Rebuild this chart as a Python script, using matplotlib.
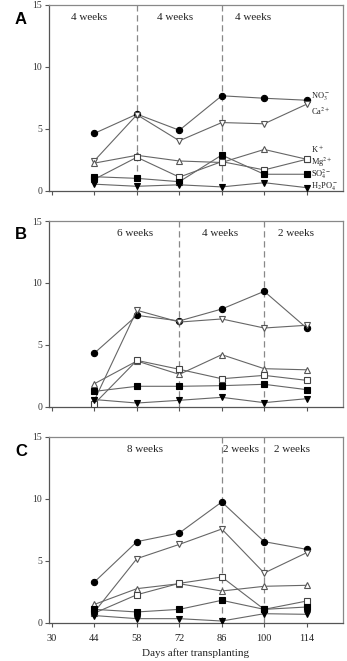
import matplotlib
matplotlib.use("Agg")
import matplotlib.pyplot as plt

plt.rcParams['font.family'] = ['Liberation Serif', 'DejaVu Serif']
plt.rcParams['mathtext.fontset'] = 'stix'

days = [44, 58, 72, 86, 100, 114]
xticks = [30, 44, 58, 72, 86, 100, 114]
yticks = [0, 5, 10, 15]

# Panel A
a_no3 = [4.65, 6.2, 4.9, 7.68, 7.48, 7.32]
a_ca = [2.45, 6.15, 4.05, 5.52, 5.42, 7.0]
a_k = [2.25, 2.88, 2.42, 2.3, 3.35, 2.56]
a_mg = [0.95, 2.72, 1.12, 2.37, 1.7, 2.56]
a_so4 = [1.15, 1.02, 0.75, 2.9, 1.35, 1.35]
a_h2po4 = [0.55, 0.38, 0.5, 0.33, 0.67, 0.27]

# Panel B
b_no3 = [4.35, 7.39, 6.94, 7.9, 9.33, 6.37]
b_ca = [0.55, 7.8, 6.85, 7.1, 6.37, 6.59]
b_k = [1.88, 3.71, 2.63, 4.22, 3.09, 3.0]
b_mg = [0.27, 3.76, 3.04, 2.28, 2.55, 2.15]
b_so4 = [1.26, 1.67, 1.67, 1.72, 1.83, 1.4]
b_h2po4 = [0.6, 0.32, 0.54, 0.78, 0.35, 0.67]

# Panel C
c_no3 = [3.31, 6.56, 7.26, 9.76, 6.56, 5.94]
c_ca = [0.9, 5.19, 6.34, 7.58, 4.03, 5.67]
c_k = [1.5, 2.77, 3.17, 2.58, 2.96, 3.04]
c_mg = [0.8, 2.28, 3.2, 3.71, 1.1, 1.77]
c_so4 = [1.1, 0.89, 1.1, 1.83, 1.1, 1.29]
c_h2po4 = [0.6, 0.35, 0.35, 0.16, 0.75, 0.7]

panels = [
    dict(label='A', series=[a_no3, a_ca, a_k, a_mg, a_so4, a_h2po4],
         vlines=[58, 86], periods=['4 weeks', '4 weeks', '4 weeks'],
         period_x=[42.2, 70.7, 96.2]),
    dict(label='B', series=[b_no3, b_ca, b_k, b_mg, b_so4, b_h2po4],
         vlines=[72, 100], periods=['6 weeks', '4 weeks', '2 weeks'],
         period_x=[57.5, 85.6, 110.5]),
    dict(label='C', series=[c_no3, c_ca, c_k, c_mg, c_so4, c_h2po4],
         vlines=[86, 100], periods=['8 weeks', '2 weeks', '2 weeks'],
         period_x=[60.8, 92.2, 109.1]),
]

ion_labels = [r'NO$_3^-$', r'Ca$^{2+}$', r'K$^+$', r'Mg$^{2+}$', r'SO$_4^{2-}$', r'H$_2$PO$_4^-$']
ion_label_y = [7.6, 6.45, 3.35, 2.35, 1.35, 0.35]

styles = [
    dict(marker='o', mfc='black', mec='black'),
    dict(marker='v', mfc='white', mec='#555555'),
    dict(marker='^', mfc='white', mec='#555555'),
    dict(marker='s', mfc='white', mec='#444444'),
    dict(marker='s', mfc='black', mec='black'),
    dict(marker='v', mfc='black', mec='black'),
]

fig = plt.figure(figsize=(3.47, 6.61), dpi=100)
tops = [5, 221, 437]
h_px = 186
for i, p in enumerate(panels):
    top = tops[i]
    ax = fig.add_axes([49 / 347, 1 - (top + h_px) / 661, 294 / 347, h_px / 661])
    for vx in p['vlines']:
        ax.axvline(vx, color='#888888', ls=(0, (5, 3)), lw=0.9, zorder=1)
    for s, st in zip(p['series'], styles):
        ax.plot(days, s, color='#666666', lw=0.8, marker=st['marker'],
                mfc=st['mfc'], mec=st['mec'], mew=0.8, ms=4.5, zorder=3)
    ax.set_xlim(29, 126)
    ax.set_ylim(0, 15)
    ax.set_yticks(yticks)
    ax.set_yticklabels([str(v) for v in yticks], fontsize=7, color='#333333')
    ax.set_xticks(xticks)
    if i == 2:
        ax.set_xticklabels([str(v) for v in xticks], fontsize=7.5, color='#222222')
        ax.set_xlabel('Days after transplanting', fontsize=8, labelpad=4, color='#222222')
    else:
        ax.set_xticklabels([])
    ax.tick_params(axis='both', direction='out', length=3, width=0.8, color='#555555', pad=2)
    ax.tick_params(axis='x', length=3, pad=5)
    for sp in ax.spines.values():
        sp.set_color('#888888')
        sp.set_linewidth(0.9)
    ax.spines['left'].set_color('#555555')
    ax.spines['bottom'].set_color('#555555')
    for tx, t in zip(p['period_x'], p['periods']):
        ax.text(tx, 14.0, t, ha='center', va='center', fontsize=8, color='#222222')
    fig.text(15 / 347, 1 - (top + 14) / 661, p['label'], fontsize=12, fontweight='bold',
             family='Liberation Sans', ha='left', va='center')
    if i == 0:
        for lab, ly in zip(ion_labels, ion_label_y):
            ax.text(115.6, ly, lab, fontsize=6.0, va='center', ha='left', color='#222222')

fig.savefig('out.png', dpi=100)
